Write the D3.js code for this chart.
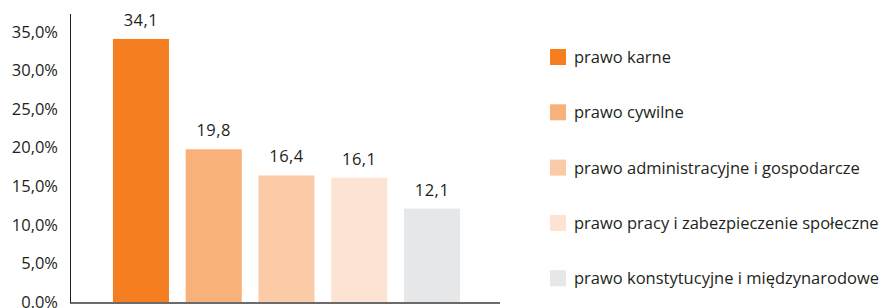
<!DOCTYPE html>
<html>
<head>
<meta charset="utf-8">
<script src="https://cdn.jsdelivr.net/npm/d3@7"></script>
<style>
  html, body { margin: 0; padding: 0; background: #fff; }
  svg text { font-family: "Open Sans", "Noto Sans", sans-serif; fill: #231f20; }
</style>
</head>
<body>
<div id="chart"></div>
<script>
// data
var categories = [
  "prawo karne",
  "prawo cywilne",
  "prawo administracyjne i gospodarcze",
  "prawo pracy i zabezpieczenie społeczne",
  "prawo konstytucyjne i międzynarodowe"
];
var values = [34.1, 19.8, 16.4, 16.1, 12.1];
var colors = ["#f47e20", "#f9b17a", "#fbcba8", "#fde3d2", "#e6e7e8"];
var yTicks = [0, 5, 10, 15, 20, 25, 30, 35];

var width = 887, height = 308;

var svg = d3.select("#chart")
  .append("svg")
  .attr("width", width)
  .attr("height", height);

var x = d3.scaleBand()
  .domain(categories)
  .range([70, 503])
  .paddingInner(0.23)
  .paddingOuter(0.59);

var y = d3.scaleLinear()
  .domain([0, 35])
  .range([302, 32]);

var comma = function (v, digits) {
  return d3.format("." + digits + "f")(v).replace(".", ",");
};

// y axis
var yAxis = svg.append("g")
  .attr("class", "y-axis")
  .attr("transform", "translate(70,0)")
  .call(d3.axisLeft(y)
    .tickValues(yTicks)
    .tickSize(0)
    .tickPadding(12)
    .tickFormat(function (d) { return comma(d, 1) + "%"; }));

yAxis.select(".domain").remove();
yAxis.selectAll("text")
  .style("font-size", "16.5px")
  .attr("fill", "#231f20");

svg.append("line")
  .attr("x1", 70.5).attr("x2", 70.5)
  .attr("y1", 14).attr("y2", 303)
  .attr("stroke", "#231f20")
  .attr("stroke-width", 1);

// bars
svg.append("g")
  .selectAll("rect")
  .data(values)
  .enter()
  .append("rect")
  .attr("x", function (d, i) { return x(categories[i]); })
  .attr("y", function (d) { return y(d); })
  .attr("width", x.bandwidth())
  .attr("height", function (d) { return y(0) - y(d); })
  .attr("fill", function (d, i) { return colors[i]; });

// baseline
svg.append("line")
  .attr("x1", 70).attr("x2", 500)
  .attr("y1", 303).attr("y2", 303)
  .attr("stroke", "#3a3a3a")
  .attr("stroke-width", 1.5);

// value labels
svg.append("g")
  .selectAll("text")
  .data(values)
  .enter()
  .append("text")
  .attr("x", function (d, i) { return x(categories[i]) + x.bandwidth() / 2; })
  .attr("y", function (d) { return y(d) - 13; })
  .attr("text-anchor", "middle")
  .style("font-size", "16.5px")
  .style("letter-spacing", "0.5px")
  .text(function (d) { return comma(d, 1); });

// legend
var legend = svg.append("g")
  .attr("class", "legend")
  .attr("transform", "translate(550,49)");

var rows = legend.selectAll("g")
  .data(categories)
  .enter()
  .append("g")
  .attr("transform", function (d, i) { return "translate(0," + (i * 55.3) + ")"; });

rows.append("rect")
  .attr("width", 16)
  .attr("height", 16)
  .attr("fill", function (d, i) { return colors[i]; });

rows.append("text")
  .attr("x", 24)
  .attr("y", 14)
  .style("font-size", "16.5px")
  .text(function (d) { return d; });
</script>
</body>
</html>
